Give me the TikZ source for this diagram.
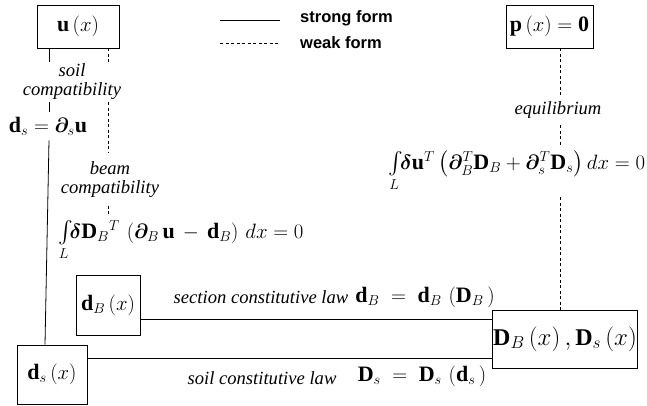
\documentclass[tikz,border=0pt]{standalone}
\usepackage{amsmath,amssymb}
\usepackage{bm}
\usepackage{fontspec}
\setmainfont{Liberation Serif}
\newfontfamily\labelfont{Liberation Serif}
\newfontfamily\legendfont{Liberation Sans}
\usetikzlibrary{positioning, calc}

\begin{document}
\begin{tikzpicture}[
    x=1pt, y=-1pt,
    box/.style={draw, line width=0.8pt, inner sep=1pt, font=\fontsize{22}{26}\selectfont},
    eqn/.style={inner sep=5pt, font=\fontsize{22}{26}\selectfont},
    lbl/.style={align=center, inner sep=2pt, font=\labelfont\itshape\fontsize{18.6}{19}\selectfont},
    strong/.style={line width=0.8pt},
    weak/.style={line width=0.8pt, dash pattern=on 3pt off 2.5pt},
    legend/.style={anchor=west, inner sep=2pt, font=\legendfont\bfseries\fontsize{16.5}{18}\selectfont}
]
\useasboundingbox (0,0) rectangle (647,406);

% boxes
\node[box, minimum width=82, minimum height=43] (u) at (78,26.5) {$\mathbf{u}\left(x\right)$};
\node[box, minimum width=87, minimum height=43] (p) at (549.5,26.5) {$\mathbf{p}\left(x\right)=\mathbf{0}$};
\node[box, minimum width=64, minimum height=60] (dB) at (108,305) {$\mathbf{d}_B\left(x\right)$};
\node[box, minimum width=70, minimum height=59] (ds) at (52,374.5) {$\mathbf{d}_s\left(x\right)$};
\node[box, minimum width=140, minimum height=58, font=\fontsize{24}{28}\selectfont] (D) at (565,339) {$\mathbf{D}_B\left(x\right),\mathbf{D}_s\left(x\right)$};

% labels and equations
\node[lbl] (soilcomp) at (72,82) {soil\\compatibility};
\node[eqn] (dseq) at (48,126) {$\mathbf{d}_s=\bm{\partial}_s\mathbf{u}$};
\node[lbl, inner ysep=8pt] (beamcomp) at (110,179.5) {beam\\compatibility};
\node[eqn] (weakB) at (181,241) {$\int\limits_L\!\! \bm{\delta}\mathbf{D}_B{}^T\,\left(\bm{\partial}_B\,\mathbf{u}\,-\,\mathbf{d}_B\right)\,dx=0$};
\node[lbl, inner ysep=6pt] (equil) at (558,110.5) {equilibrium};
\node[eqn] (weakeq) at (517,171.5) {$\int\limits_L\!\!\bm{\delta}\mathbf{u}^T\left(\bm{\partial}_B^T\mathbf{D}_B+\bm{\partial}_s^T\mathbf{D}_s\right)dx=0$};
\node[lbl] (seclaw) at (261,297) {section constitutive law};
\node[eqn] (dBeq) at (425,297) {$\mathbf{d}_B\;=\;\mathbf{d}_B\,\left(\mathbf{D}_B\,\right)$};
\node[lbl] (soillaw) at (262,378) {soil constitutive law};
\node[eqn] (Dseq) at (422,376) {$\mathbf{D}_s\;=\;\mathbf{D}_s\,\left(\mathbf{d}_s\,\right)$};

% legend
\node[legend] (strongtxt) at (298,18) {strong form};
\node[legend] (weaktxt) at (298,43) {weak form};
\coordinate (legS) at (220,20);
\coordinate (legSend) at (280,20);
\coordinate (legW) at (220,43);
\coordinate (legWend) at (280,43);
\draw[strong] (legS) -- (legSend);
\draw[weak] (legW) -- (legWend);

% connectors
\coordinate (solidx) at (49,0);
\coordinate (weakx) at (108,0);
\coordinate (eqx) at (560,0);

\draw[strong] (u.south -| solidx) -- (soilcomp.north -| solidx);
\draw[strong] (soilcomp.south -| solidx) -- (dseq.north -| solidx);
\draw[strong] (dseq.south -| solidx) -- ([xshift=-7]ds.north);

\draw[weak] (u.south -| weakx) -- (soilcomp.north -| weakx);
\draw[weak] (soilcomp.south -| weakx) -- (beamcomp.north -| weakx);
\draw[weak] (beamcomp.south -| weakx) -- (weakB.north -| weakx);

\draw[weak] (p.south -| eqx) -- (equil.north -| eqx);
\draw[weak] (equil.south -| eqx) -- (weakeq.north -| eqx);
\draw[weak] (weakeq.south -| eqx) -- (D.north -| eqx);

\draw[strong] ([yshift=-14]dB.east) -- ([yshift=-14]dB.east -| D.west);
\draw[strong] ([yshift=16.5]ds.east) -- ([yshift=16.5]ds.east -| D.west);

\end{tikzpicture}
\end{document}
